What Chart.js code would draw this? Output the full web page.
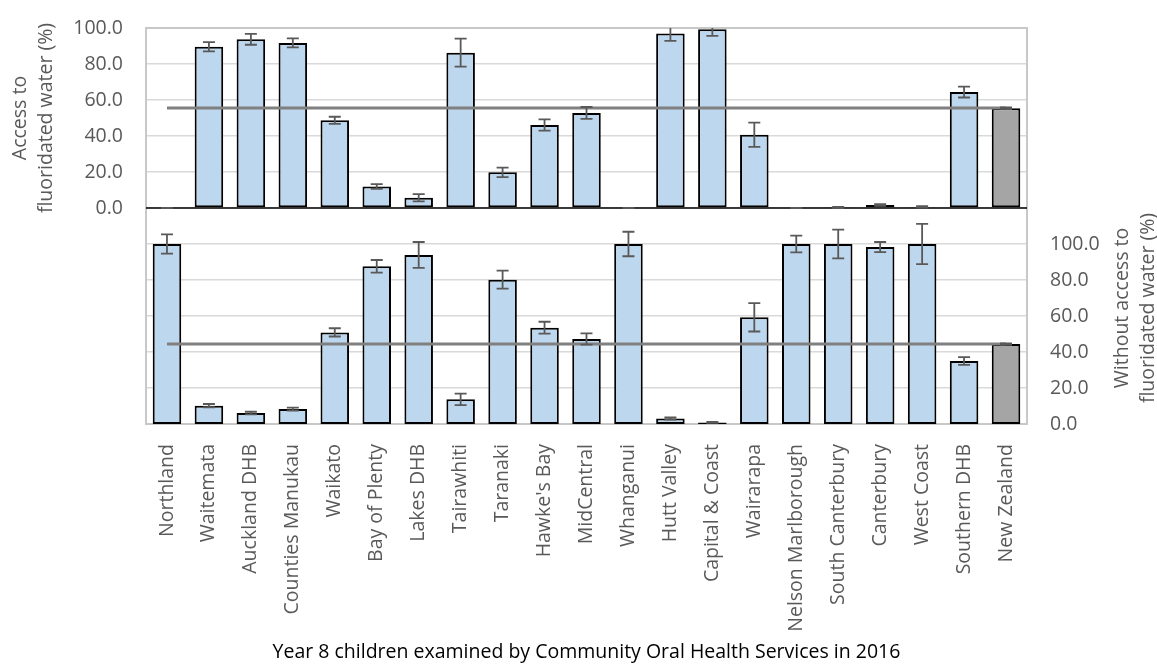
<!DOCTYPE html>
<html>
<head>
<meta charset="utf-8">
<script src="https://cdn.jsdelivr.net/npm/chart.js@4"></script>
<style>
  html, body { margin: 0; padding: 0; background: #fff; }
  #wrap { width: 1157px; height: 664px; position: relative; }
</style>
</head>
<body>
<div id="wrap"><canvas id="fluoride-chart"></canvas></div>
<script>
const categories = ['Northland', 'Waitemata', 'Auckland DHB', 'Counties Manukau', 'Waikato',
  'Bay of Plenty', 'Lakes DHB', 'Tairawhiti', 'Taranaki', "Hawke's Bay", 'MidCentral',
  'Whanganui', 'Hutt Valley', 'Capital & Coast', 'Wairarapa', 'Nelson Marlborough',
  'South Canterbury', 'Canterbury', 'West Coast', 'Southern DHB', 'New Zealand'];

// access to fluoridated water (%), upper panel
const accessValues = [0, 89.6, 93.7, 91.7, 48.7, 12.0, 5.7, 86.3, 19.8, 46.1, 52.8,
  0, 96.9, 99.3, 40.7, 0, 0.3, 1.7, 0.6, 64.4, 55.4];
const accessErrors = [0, 2.6, 3.0, 2.5, 2.0, 1.3, 2.0, 7.8, 2.6, 3.1, 3.3,
  0, 4.0, 3.7, 6.7, 0, 0.3, 0.5, 0.4, 3.0, 0.5];

// without access to fluoridated water (%), lower panel
const noAccessValues = [100, 10.2, 6.1, 8.3, 50.9, 87.6, 93.9, 13.7, 80.2, 53.5, 47.2,
  100, 3.0, 0.9, 59.3, 100, 100, 98.3, 100, 35.0, 44.4];
const noAccessErrors = [5.4, 0.9, 0.7, 0.8, 2.3, 3.5, 7.2, 3.2, 5.0, 3.3, 3.1,
  6.8, 0.6, 0.3, 7.9, 4.6, 8.0, 2.8, 11.2, 2.2, 0.4];

// New Zealand reference lines
const accessNZLine = [55.6, 55.6, 55.6, 55.6, 55.6, 55.6, 55.6, 55.6, 55.6, 55.6, 55.6,
  55.6, 55.6, 55.6, 55.6, 55.6, 55.6, 55.6, 55.6, 55.6, 55.6];
const noAccessNZLine = [44.4, 44.4, 44.4, 44.4, 44.4, 44.4, 44.4, 44.4, 44.4, 44.4, 44.4,
  44.4, 44.4, 44.4, 44.4, 44.4, 44.4, 44.4, 44.4, 44.4, 44.4];

const leftTicks = [0, 20, 40, 60, 80, 100];
const rightTicks = [0, 20, 40, 60, 80, 100];

const FONT = '"Open Sans", "Noto Sans", sans-serif';
const TEXT = '#595959';
const barColors = categories.map(c => c === 'New Zealand' ? '#a5a5a5' : '#bdd7ee');

const errorBars = {
  id: 'errorBars',
  afterDatasetsDraw(chart) {
    const { ctx, chartArea, scales } = chart;
    ctx.save();
    ctx.beginPath();
    ctx.rect(chartArea.left, chartArea.top, chartArea.width, chartArea.height);
    ctx.clip();
    ctx.strokeStyle = '#595959';
    ctx.lineWidth = 1.8;
    const sets = [[accessValues, accessErrors, 'y'], [noAccessValues, noAccessErrors, 'y2']];
    sets.forEach(([vals, errs, axis]) => {
      vals.forEach((v, i) => {
        const x = scales.x.getPixelForValue(i);
        const top = scales[axis].getPixelForValue(v + errs[i]);
        const bot = scales[axis].getPixelForValue(Math.max(0, v - errs[i]));
        ctx.beginPath();
        ctx.moveTo(x, top); ctx.lineTo(x, bot);
        ctx.moveTo(x - 6, top); ctx.lineTo(x + 6, top);
        ctx.moveTo(x - 6, bot); ctx.lineTo(x + 6, bot);
        ctx.stroke();
      });
    });
    ctx.restore();
  }
};

const frameAndTitles = {
  id: 'frameAndTitles',
  beforeDatasetsDraw(chart) {
    const { ctx, chartArea } = chart;
    ctx.save();
    ctx.strokeStyle = '#c8c8c8';
    ctx.lineWidth = 2;
    ctx.strokeRect(chartArea.left, chartArea.top, chartArea.width, chartArea.height);
    // zero line of the upper panel
    const y0 = chart.scales.y.getPixelForValue(0);
    ctx.strokeStyle = '#000';
    ctx.lineWidth = 1.5;
    ctx.beginPath();
    ctx.moveTo(chartArea.left, y0); ctx.lineTo(chartArea.right, y0);
    ctx.stroke();
    ctx.restore();
  },
  afterDraw(chart) {
    const { ctx } = chart;
    ctx.save();
    ctx.fillStyle = TEXT;
    ctx.font = '19.5px ' + FONT;
    ctx.textAlign = 'center';
    ctx.textBaseline = 'middle';
    ctx.translate(33, 118);
    ctx.rotate(-Math.PI / 2);
    ctx.fillText('Access to', 0, -13);
    ctx.fillText('fluoridated water (%)', 0, 13);
    ctx.restore();

    ctx.save();
    ctx.fillStyle = TEXT;
    ctx.font = '19.5px ' + FONT;
    ctx.textAlign = 'center';
    ctx.textBaseline = 'middle';
    ctx.translate(1135, 308);
    ctx.rotate(-Math.PI / 2);
    ctx.fillText('Without access to', 0, -13);
    ctx.fillText('fluoridated water (%)', 0, 13);
    ctx.restore();
  }
};

new Chart(document.getElementById('fluoride-chart'), {
  type: 'bar',
  data: {
    labels: categories,
    datasets: [
      {
        type: 'line',
        data: accessNZLine,
        yAxisID: 'y',
        borderColor: '#808080',
        borderWidth: 3,
        pointRadius: 0,
        order: 1
      },
      {
        type: 'line',
        data: noAccessNZLine,
        yAxisID: 'y2',
        borderColor: '#808080',
        borderWidth: 3,
        pointRadius: 0,
        order: 1
      },
      {
        data: accessValues,
        yAxisID: 'y',
        backgroundColor: barColors,
        borderColor: '#000',
        borderWidth: 2,
        borderSkipped: false,
        grouped: false,
        barPercentage: 0.68,
        categoryPercentage: 1,
        order: 2
      },
      {
        data: noAccessValues,
        yAxisID: 'y2',
        backgroundColor: barColors,
        borderColor: '#000',
        borderWidth: 2,
        borderSkipped: false,
        grouped: false,
        barPercentage: 0.68,
        categoryPercentage: 1,
        order: 2
      }
    ]
  },
  options: {
    responsive: true,
    maintainAspectRatio: false,
    animation: false,
    layout: { padding: { top: 28, bottom: 0, left: 0, right: 0 } },
    plugins: {
      legend: { display: false },
      tooltip: { enabled: false }
    },
    scales: {
      x: {
        grid: { display: false },
        border: { display: false },
        ticks: {
          color: TEXT,
          font: { family: FONT, size: 19.5 },
          minRotation: 90,
          maxRotation: 90,
          autoSkip: false,
          padding: 12
        },
        title: {
          display: true,
          text: 'Year 8 children examined by Community Oral Health Services in 2016',
          color: '#000',
          font: { family: FONT, size: 19.5 },
          padding: { top: 0, bottom: 0 }
        },
        afterFit(scale) { scale.height = 240; }
      },
      y: {
        position: 'left',
        min: -120,
        max: 100,
        border: { display: false },
        grid: {
          drawTicks: false,
          color: '#d9d9d9',
          lineWidth: 1.5
        },
        ticks: {
          stepSize: 20,
          padding: 23,
          color: TEXT,
          font: { family: FONT, size: 19.5 },
          callback: v => leftTicks.includes(v) ? v.toFixed(1) : ''
        },
        afterFit(scale) {
          scale.width = 146;
          scale.paddingTop = 0;
          scale.paddingBottom = 0;
        }
      },
      y2: {
        position: 'right',
        min: 0,
        max: 220,
        border: { display: false },
        grid: { display: false, drawTicks: false },
        ticks: {
          stepSize: 20,
          padding: 23,
          color: TEXT,
          font: { family: FONT, size: 19.5 },
          callback: v => rightTicks.includes(v) ? v.toFixed(1) : ''
        },
        afterFit(scale) {
          scale.width = 130;
          scale.paddingTop = 0;
          scale.paddingBottom = 0;
        }
      }
    }
  },
  plugins: [frameAndTitles, errorBars]
});
</script>
</body>
</html>
